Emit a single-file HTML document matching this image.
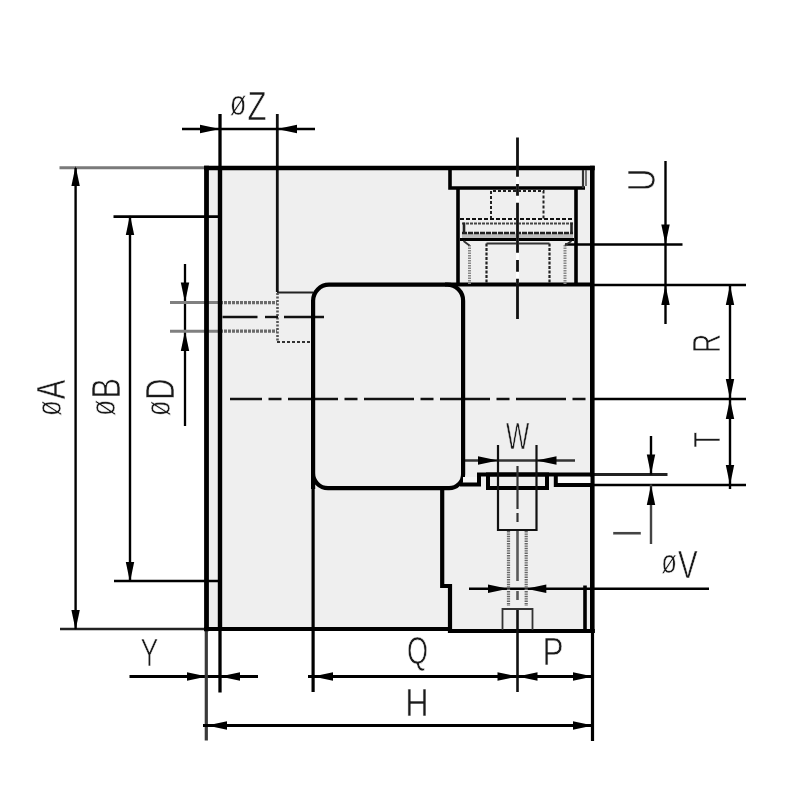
<!DOCTYPE html>
<html lang="en">
<head>
<meta charset="utf-8">
<title>Dimension drawing</title>
<style>
html,body{margin:0;padding:0;background:#fff;}
body{width:800px;height:800px;overflow:hidden;}
svg{display:block;filter:grayscale(1) blur(0.55px);}
text{font-family:"Liberation Sans",sans-serif;}
</style>
</head>
<body>
<svg width="800" height="800" viewBox="0 0 800 800">
<rect x="0" y="0" width="800" height="800" fill="#ffffff"/>
<rect x="206" y="168" width="387" height="461" fill="#efefef"/>
<rect x="450" y="620" width="143" height="11" fill="#efefef"/>
<line x1="59.5" y1="167.8" x2="207" y2="167.8" stroke="#7a7a7a" stroke-width="3"/>
<line x1="60" y1="629" x2="207" y2="629" stroke="#222" stroke-width="2.4"/>
<line x1="75.6" y1="168" x2="75.6" y2="629" stroke="#000" stroke-width="2.4"/>
<polygon points="75.6,166 71.39999999999999,186 79.8,186" fill="#000"/>
<polygon points="75.6,630 71.39999999999999,610 79.8,610" fill="#000"/>
<line x1="113.5" y1="216.6" x2="220" y2="216.6" stroke="#000" stroke-width="2.6"/>
<line x1="114" y1="581" x2="220" y2="581" stroke="#000" stroke-width="2.4"/>
<line x1="130" y1="216" x2="130" y2="581" stroke="#000" stroke-width="2.4"/>
<polygon points="130,215 125.8,235 134.2,235" fill="#000"/>
<polygon points="130,582 125.8,562 134.2,562" fill="#000"/>
<line x1="185" y1="264" x2="185" y2="426" stroke="#000" stroke-width="2.3"/>
<polygon points="185,302.5 180.8,282.5 189.2,282.5" fill="#000"/>
<polygon points="185,331 180.8,351 189.2,351" fill="#000"/>
<line x1="170" y1="302.6" x2="220" y2="302.6" stroke="#808080" stroke-width="3"/>
<line x1="170" y1="331.2" x2="220" y2="331.2" stroke="#808080" stroke-width="3"/>
<line x1="220" y1="302.6" x2="277" y2="302.6" stroke="#6a6a6a" stroke-width="3.2" stroke-dasharray="3 1"/>
<line x1="220" y1="331.2" x2="277" y2="331.2" stroke="#6a6a6a" stroke-width="3.2" stroke-dasharray="3 1"/>
<line x1="277" y1="292.5" x2="313" y2="292.5" stroke="#222" stroke-width="2"/>
<line x1="277" y1="342" x2="313" y2="342" stroke="#333" stroke-width="2" stroke-dasharray="3 2"/>
<line x1="277.5" y1="293" x2="277.5" y2="342" stroke="#555" stroke-width="2.6" stroke-dasharray="2 1.5"/>
<line x1="220" y1="114" x2="220" y2="692.5" stroke="#000" stroke-width="3.3"/>
<line x1="220" y1="168" x2="220" y2="629" stroke="#000" stroke-width="4.4"/>
<line x1="277.3" y1="114" x2="277.3" y2="292" stroke="#111" stroke-width="2.8"/>
<line x1="182" y1="129" x2="315" y2="129" stroke="#000" stroke-width="2.4"/>
<polygon points="220,129 200,124.8 200,133.2" fill="#000"/>
<polygon points="277,129 297,124.8 297,133.2" fill="#000"/>
<line x1="222.5" y1="317" x2="257.5" y2="317" stroke="#111" stroke-width="2.4"/>
<line x1="265" y1="317" x2="278" y2="317" stroke="#111" stroke-width="2.4"/>
<line x1="284" y1="317" x2="324" y2="317" stroke="#111" stroke-width="2.4"/>
<line x1="230" y1="399" x2="593" y2="399" stroke="#111" stroke-width="2.6" stroke-dasharray="50 6.5 13 6.5" stroke-dashoffset="18"/>
<line x1="593" y1="399" x2="746" y2="399" stroke="#000" stroke-width="2.4"/>
<line x1="129.5" y1="676.5" x2="258" y2="676.5" stroke="#000" stroke-width="2.8"/>
<polygon points="207,676.5 187,672.3 187,680.7" fill="#000"/>
<polygon points="220,676.5 240,672.3 240,680.7" fill="#000"/>
<line x1="206.3" y1="629" x2="206.3" y2="740.5" stroke="#3a3a3a" stroke-width="3.2"/>
<line x1="313.1" y1="488" x2="313.1" y2="692" stroke="#000" stroke-width="3.2"/>
<line x1="308" y1="676.5" x2="593" y2="676.5" stroke="#000" stroke-width="2.8"/>
<polygon points="313,676.5 333,672.3 333,680.7" fill="#000"/>
<polygon points="517.5,676.5 497.5,672.3 497.5,680.7" fill="#000"/>
<polygon points="517.5,676.5 537.5,672.3 537.5,680.7" fill="#000"/>
<polygon points="593,676.5 573,672.3 573,680.7" fill="#000"/>
<line x1="203" y1="725.5" x2="593" y2="725.5" stroke="#000" stroke-width="2.8"/>
<polygon points="207,725.5 227,721.3 227,729.7" fill="#000"/>
<polygon points="593,725.5 573,721.3 573,729.7" fill="#000"/>
<line x1="592.5" y1="629" x2="592.5" y2="741" stroke="#000" stroke-width="3.2"/>
<line x1="665.5" y1="161" x2="665.5" y2="324" stroke="#000" stroke-width="2.4"/>
<polygon points="665.5,244.5 661.3,224.5 669.7,224.5" fill="#000"/>
<polygon points="665.5,285 661.3,305 669.7,305" fill="#000"/>
<line x1="565" y1="244.5" x2="682.5" y2="244.5" stroke="#000" stroke-width="2.4"/>
<line x1="593" y1="285" x2="746" y2="285" stroke="#000" stroke-width="2.6"/>
<line x1="730" y1="285" x2="730" y2="489" stroke="#000" stroke-width="2.4"/>
<polygon points="730,285 725.8,305 734.2,305" fill="#000"/>
<polygon points="730,399 725.8,379 734.2,379" fill="#000"/>
<polygon points="730,399 725.8,419 734.2,419" fill="#000"/>
<polygon points="730,485 725.8,465 734.2,465" fill="#000"/>
<line x1="593" y1="485" x2="746" y2="485" stroke="#000" stroke-width="2.6"/>
<line x1="593" y1="474.5" x2="667.5" y2="474.5" stroke="#222" stroke-width="2.8"/>
<line x1="651" y1="436" x2="651" y2="474.5" stroke="#000" stroke-width="2.4"/>
<line x1="651" y1="484.5" x2="651" y2="544" stroke="#444" stroke-width="2.4"/>
<polygon points="651,474.5 646.8,454.5 655.2,454.5" fill="#000"/>
<polygon points="651,485 646.8,505 655.2,505" fill="#000"/>
<line x1="469" y1="588.8" x2="709" y2="588.8" stroke="#000" stroke-width="2.4"/>
<polygon points="508,588.8 488,584.5999999999999 488,593.0" fill="#000"/>
<polygon points="526.3,588.8 546.3,584.5999999999999 546.3,593.0" fill="#000"/>
<line x1="465" y1="460.5" x2="575" y2="460.5" stroke="#333" stroke-width="2.4"/>
<polygon points="498,460.5 478,456.3 478,464.7" fill="#000"/>
<polygon points="536.5,460.5 556.5,456.3 556.5,464.7" fill="#000"/>
<path d="M313.1,489 V300.7 A16,16 0 0 1 329,284.7 H447 A16,16 0 0 1 463.1,300.7 V474 A14,14 0 0 1 449,488.2 H328 A15,15 0 0 1 313.1,473" fill="none" stroke="#000" stroke-width="4.2" stroke-linejoin="miter"/>
<line x1="206.5" y1="165.7" x2="206.5" y2="631.3" stroke="#000" stroke-width="4.8"/>
<line x1="204.1" y1="168" x2="594.8" y2="168" stroke="#000" stroke-width="4.6"/>
<line x1="592.3" y1="165.7" x2="592.3" y2="633" stroke="#000" stroke-width="4.6"/>
<line x1="204.1" y1="629" x2="450" y2="629" stroke="#000" stroke-width="4.2"/>
<line x1="445" y1="284.6" x2="593" y2="284.6" stroke="#000" stroke-width="4"/>
<rect x="557.5" y="476.5" width="33" height="6.5" fill="#fbfbfb"/>
<rect x="463" y="477" width="14.5" height="5.5" fill="#f6f6f6"/>
<path d="M460,484.5 H479 V474.5 H593" fill="none" stroke="#000" stroke-width="4" stroke-linejoin="miter"/>
<path d="M555.8,474.5 V485 H593" fill="none" stroke="#000" stroke-width="4" stroke-linejoin="miter"/>
<path d="M442.2,488 V586 H450 V631 H594.8" fill="none" stroke="#000" stroke-width="4.2" stroke-linejoin="miter"/>
<path d="M585,585.5 V631" fill="none" stroke="#000" stroke-width="3.6" stroke-linejoin="miter"/>
<rect x="488" y="474.5" width="59" height="13.5" fill="none" stroke="#000" stroke-width="4"/>
<path d="M498,445 V530 H536.5 V445" fill="none" stroke="#111" stroke-width="2.2" stroke-linejoin="miter"/>
<line x1="508.5" y1="531" x2="508.5" y2="606" stroke="#666" stroke-width="3.2" stroke-dasharray="1.4 1"/>
<line x1="526.2" y1="531" x2="526.2" y2="606" stroke="#666" stroke-width="3.2" stroke-dasharray="1.4 1"/>
<line x1="517.5" y1="466" x2="517.5" y2="509" stroke="#333" stroke-width="2.2"/>
<line x1="517.5" y1="513" x2="517.5" y2="522" stroke="#333" stroke-width="2.2"/>
<line x1="517.5" y1="531" x2="517.5" y2="581" stroke="#5a5a5a" stroke-width="2.6"/>
<line x1="517.5" y1="591" x2="517.5" y2="600" stroke="#5a5a5a" stroke-width="2.6"/>
<line x1="517.5" y1="608" x2="517.5" y2="692" stroke="#111" stroke-width="2.6"/>
<path d="M502.5,630 V609 H532.5 V630" fill="none" stroke="#333" stroke-width="1.8" stroke-linejoin="miter"/>
<rect x="450" y="170" width="134" height="18" fill="none"/>
<path d="M450,168 V188 H585" fill="none" stroke="#000" stroke-width="3.6" stroke-linejoin="miter"/>
<path d="M583,170 V188" fill="none" stroke="#333" stroke-width="2.2" stroke-linejoin="miter"/>
<path d="M586,170 V186" fill="none" stroke="#555" stroke-width="1.6" stroke-linejoin="miter"/>
<line x1="458" y1="188" x2="458" y2="284" stroke="#000" stroke-width="3.6"/>
<line x1="576" y1="188" x2="576" y2="284" stroke="#000" stroke-width="3.6"/>
<path d="M491,219 V191 H543.5 V219" fill="none" stroke="#222" stroke-width="2" stroke-linejoin="miter" stroke-dasharray="3 2"/>
<line x1="460" y1="219" x2="574" y2="219" stroke="#111" stroke-width="2.2" stroke-dasharray="4 2"/>
<rect x="462" y="233.5" width="111" height="5" fill="#bdbdbd"/>
<line x1="462" y1="223.6" x2="573" y2="223.6" stroke="#444" stroke-width="2" stroke-dasharray="3 1"/>
<line x1="462" y1="233" x2="573" y2="233" stroke="#222" stroke-width="2.6" stroke-dasharray="5 1"/>
<line x1="460" y1="239.5" x2="574" y2="239.5" stroke="#000" stroke-width="3"/>
<line x1="464" y1="222.6" x2="464" y2="234" stroke="#222" stroke-width="2.6"/>
<line x1="571.5" y1="222.6" x2="571.5" y2="234" stroke="#222" stroke-width="2.6"/>
<line x1="469.5" y1="245" x2="469.5" y2="284" stroke="#888" stroke-width="3" stroke-dasharray="1.5 1"/>
<line x1="565" y1="245" x2="565" y2="284" stroke="#888" stroke-width="3" stroke-dasharray="1.5 1"/>
<path d="M463.5,241 L469.5,245.5" fill="none" stroke="#333" stroke-width="1.8" stroke-linejoin="miter"/>
<path d="M571.5,241 L565,245.5" fill="none" stroke="#333" stroke-width="1.8" stroke-linejoin="miter"/>
<line x1="486.5" y1="243.5" x2="486.5" y2="284" stroke="#222" stroke-width="2.2" stroke-dasharray="3 1.5"/>
<line x1="549.5" y1="243.5" x2="549.5" y2="284" stroke="#222" stroke-width="2.2" stroke-dasharray="3 1.5"/>
<line x1="486.5" y1="243.6" x2="549.5" y2="243.6" stroke="#333" stroke-width="2"/>
<line x1="517.5" y1="170" x2="517.5" y2="284" stroke="#fff" stroke-width="3"/>
<line x1="517.5" y1="137.5" x2="517.5" y2="319" stroke="#111" stroke-width="2.8" stroke-dasharray="50 7.2 11.8 7" stroke-dashoffset="10.75"/>
<text transform="translate(229.75,120) scale(0.78,1.02)" font-size="40" fill="#1a1a1a" stroke="#fff" stroke-width="0.6" vector-effect="non-scaling-stroke"><tspan dy="-4.5" font-size="35">ø</tspan><tspan dy="4.5" dx="1.5">Z</tspan></text>
<text transform="translate(661.3,577.5) scale(0.735,0.97)" font-size="40" fill="#1a1a1a" stroke="#fff" stroke-width="0.6" vector-effect="non-scaling-stroke"><tspan dy="-4.5" font-size="35">ø</tspan><tspan dy="4.5" dx="1.5">V</tspan></text>
<text transform="translate(506,449) scale(0.618,0.93)" font-size="40" fill="#1a1a1a" stroke="#efefef" stroke-width="0.6" vector-effect="non-scaling-stroke">W</text>
<text transform="translate(140.6,666) scale(0.67,0.964)" font-size="40" fill="#1a1a1a" stroke="#fff" stroke-width="0.6" vector-effect="non-scaling-stroke">Y</text>
<text transform="translate(406.9,664) scale(0.676,0.97)" font-size="40" fill="#1a1a1a" stroke="#fff" stroke-width="0.6" vector-effect="non-scaling-stroke">Q</text>
<text transform="translate(405.2,715.5) scale(0.81,0.975)" font-size="40" fill="#1a1a1a" stroke="#fff" stroke-width="0.6" vector-effect="non-scaling-stroke">H</text>
<text transform="translate(542.4,665.2) scale(0.79,0.975)" font-size="40" fill="#1a1a1a" stroke="#fff" stroke-width="0.6" vector-effect="non-scaling-stroke">P</text>
<text transform="translate(65,416) rotate(-90) scale(0.735,1.0)" font-size="40" fill="#1a1a1a" stroke="#fff" stroke-width="0.6" vector-effect="non-scaling-stroke"><tspan dy="-4.5" font-size="35">ø</tspan><tspan dy="4.5" dx="1.5">A</tspan></text>
<text transform="translate(119.6,416) rotate(-90) scale(0.766,1.0)" font-size="40" fill="#1a1a1a" stroke="#fff" stroke-width="0.6" vector-effect="non-scaling-stroke"><tspan dy="-4.5" font-size="35">ø</tspan><tspan dy="4.5" dx="1.5">B</tspan></text>
<text transform="translate(174,416) rotate(-90) scale(0.72,1.0)" font-size="40" fill="#1a1a1a" stroke="#fff" stroke-width="0.6" vector-effect="non-scaling-stroke"><tspan dy="-4.5" font-size="35">ø</tspan><tspan dy="4.5" dx="1.5">D</tspan></text>
<text transform="translate(654.5,191.35) rotate(-90) scale(0.783,0.982)" font-size="40" fill="#1a1a1a" stroke="#fff" stroke-width="0.6" vector-effect="non-scaling-stroke">U</text>
<text transform="translate(720,353) rotate(-90) scale(0.667,0.982)" font-size="40" fill="#1a1a1a" stroke="#fff" stroke-width="0.6" vector-effect="non-scaling-stroke">R</text>
<text transform="translate(719.5,447.6) rotate(-90) scale(0.63,0.946)" font-size="40" fill="#1a1a1a" stroke="#fff" stroke-width="0.6" vector-effect="non-scaling-stroke">T</text>
<text transform="translate(641,537.6) rotate(-90) scale(0.75,1.018)" font-size="40" fill="#444" stroke="#fff" stroke-width="0.3" vector-effect="non-scaling-stroke">I</text>
</svg>
</body>
</html>
